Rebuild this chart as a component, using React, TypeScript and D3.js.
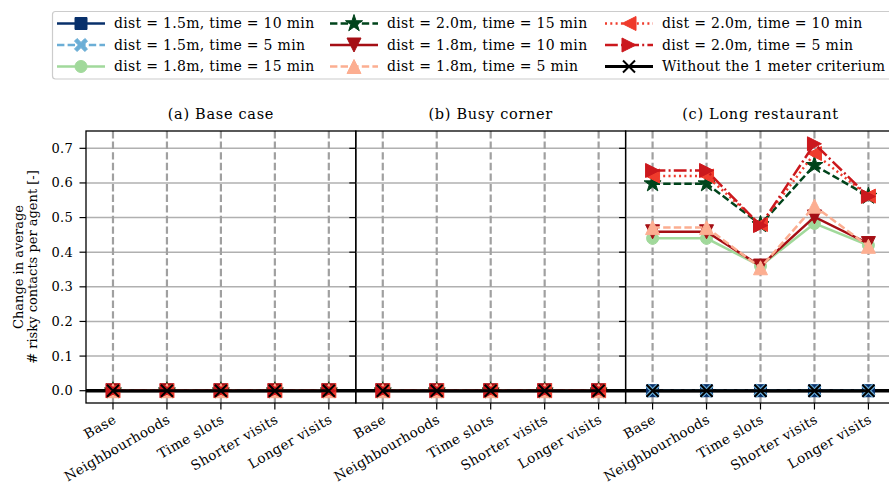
import React from "react";
import * as d3 from "d3";

// ---------- data ----------
const categories = ["Base", "Neighbourhoods", "Time slots", "Shorter visits", "Longer visits"];
const panelTitles = ["(a) Base case", "(b) Busy corner", "(c) Long restaurant"];
const yTicks = [0.0, 0.1, 0.2, 0.3, 0.4, 0.5, 0.6, 0.7];

// (a) Base case and (b) Busy corner: every configuration gives no change
const baseCaseValues = [0, 0, 0, 0, 0];
const busyCornerValues = [0, 0, 0, 0, 0];

// (c) Long restaurant
const longRestaurant_d15_t10 = [0, 0, 0, 0, 0];
const longRestaurant_d15_t5 = [0, 0, 0, 0, 0];
const longRestaurant_d18_t15 = [0.44, 0.44, 0.36, 0.483, 0.42];
const longRestaurant_d20_t15 = [0.598, 0.598, 0.48, 0.651, 0.562];
const longRestaurant_d18_t10 = [0.459, 0.459, 0.36, 0.502, 0.425];
const longRestaurant_d18_t5 = [0.471, 0.471, 0.355, 0.533, 0.417];
const longRestaurant_d20_t10 = [0.62, 0.62, 0.48, 0.685, 0.562];
const longRestaurant_d20_t5 = [0.636, 0.636, 0.477, 0.713, 0.561];
const longRestaurant_without = [0, 0, 0, 0, 0];

const seriesLabels = [
  "dist = 1.5m, time = 10 min",
  "dist = 1.5m, time = 5 min",
  "dist = 1.8m, time = 15 min",
  "dist = 2.0m, time = 15 min",
  "dist = 1.8m, time = 10 min",
  "dist = 1.8m, time = 5 min",
  "dist = 2.0m, time = 10 min",
  "dist = 2.0m, time = 5 min",
  "Without the 1 meter criterium",
];
const longRestaurantValues = [
  longRestaurant_d15_t10,
  longRestaurant_d15_t5,
  longRestaurant_d18_t15,
  longRestaurant_d20_t15,
  longRestaurant_d18_t10,
  longRestaurant_d18_t5,
  longRestaurant_d20_t10,
  longRestaurant_d20_t5,
  longRestaurant_without,
];

// ---------- styles ----------
type Marker = "square" | "X" | "circle" | "star" | "down" | "up" | "left" | "right" | "x";
const seriesColors = ["#08306b", "#6baed6", "#a1d99b", "#00441b", "#a50f15", "#fcae91", "#ef3b2c", "#cb181d", "#000000"];
const seriesMarkers: Marker[] = ["square", "X", "circle", "star", "down", "up", "left", "right", "x"];
const seriesDash = ["", "7.4,3.2", "", "7.4,3.2", "", "7.4,3.2", "2,3.3", "12.8,3.2,2,3.2", ""];
const seriesWidth = [2.5, 2.5, 2.5, 2.5, 2.5, 2.5, 2.5, 2.5, 3];

const FONT = "'DejaVu Serif', serif";

const W = 889;
const H = 486;
const panelLeft = [86, 355.8, 625.6];
const panelW = 269.8;
const plotTop = 131;
const plotBottom = 403;
const tickLen = 6.5;

const y = d3.scaleLinear().domain([-0.0355, 0.75]).range([plotBottom, plotTop]);

function markerPath(m: Marker): string {
  const h = 7;
  switch (m) {
    case "square":
      return `M${-6},${-6}H6V6H-6Z`;
    case "circle":
      return d3.symbol(d3.symbolCircle, Math.PI * 36)()!;
    case "star":
      return d3.symbol(d3.symbolStar, 90)()!;
    case "X": {
      const a = 6.5, t = 2.6;
      return `M${-a},${-a + t}L${-a + t},${-a}L0,${-t}L${a - t},${-a}L${a},${-a + t}L${t},0L${a},${a - t}L${a - t},${a}L0,${t}L${-a + t},${a}L${-a},${a - t}L${-t},0Z`;
    }
    case "up":
      return `M0,${-h}L${h},${h}L${-h},${h}Z`;
    case "down":
      return `M0,${h}L${h},${-h}L${-h},${-h}Z`;
    case "left":
      return `M${-h},0L${h},${-h}L${h},${h}Z`;
    case "right":
      return `M${h},0L${-h},${-h}L${-h},${h}Z`;
    case "x":
      return `M-6,-6L6,6M-6,6L6,-6`;
  }
}

function MarkerShape({ m, color, cx, cy }: { m: Marker; color: string; cx: number; cy: number }) {
  if (m === "x") {
    return <path d={markerPath(m)} transform={`translate(${cx},${cy})`} stroke={color} strokeWidth={2} fill="none" />;
  }
  return <path d={markerPath(m)} transform={`translate(${cx},${cy})`} fill={color} stroke={color} strokeWidth={1} />;
}

function Panel({ index }: { index: number }) {
  const left = panelLeft[index];
  const right = left + panelW;
  const x = d3.scaleLinear().domain([-0.5, 4.5]).range([left, right]);
  const values = index === 0 ? seriesLabels.map(() => baseCaseValues) : index === 1 ? seriesLabels.map(() => busyCornerValues) : longRestaurantValues;
  const line = d3
    .line<number>()
    .x((_, i) => x(i))
    .y((d) => y(d));
  return (
    <g>
      {yTicks.map((t) => (
        <line key={t} x1={left} x2={right} y1={y(t)} y2={y(t)} stroke="#b0b0b0" strokeWidth={1.5} />
      ))}
      {categories.map((c, i) => (
        <line key={c} x1={x(i)} x2={x(i)} y1={plotTop} y2={plotBottom} stroke="#a0a0a0" strokeWidth={2.2} strokeDasharray="7.4,3.2" />
      ))}
      <line x1={left} x2={right} y1={y(0)} y2={y(0)} stroke="#000" strokeWidth={3.5} />
      {values.map((vals, s) => (
        <g key={s}>
          <path d={line(vals)!} fill="none" stroke={seriesColors[s]} strokeWidth={seriesWidth[s]} strokeDasharray={seriesDash[s] || undefined} />
          {vals.map((v, i) => (
            <MarkerShape key={i} m={seriesMarkers[s]} color={seriesColors[s]} cx={x(i)} cy={y(v)} />
          ))}
        </g>
      ))}
      <rect x={left} y={plotTop} width={panelW} height={plotBottom - plotTop} fill="none" stroke="#000" strokeWidth={1.3} />
      {yTicks.map((t) => (
        <line key={t} x1={left - tickLen} x2={left} y1={y(t)} y2={y(t)} stroke="#000" strokeWidth={1.2} />
      ))}
      {index === 0 &&
        yTicks.map((t) => (
          <text key={t} x={left - 13} y={y(t)} dy="0.35em" textAnchor="end" fontFamily={FONT} fontSize={13} letterSpacing={0.3}>
            {d3.format(".1f")(t)}
          </text>
        ))}
      {categories.map((c, i) => (
        <g key={c}>
          <line x1={x(i)} x2={x(i)} y1={plotBottom} y2={plotBottom + tickLen} stroke="#000" strokeWidth={1.2} />
          <text
            transform={`translate(${x(i) - 1},${plotBottom + 10}) rotate(-30)`}
            textAnchor="end"
            dominantBaseline="hanging"
            fontFamily={FONT}
            fontSize={13.5}
            letterSpacing={0.4}
          >
            {c}
          </text>
        </g>
      ))}
      <text x={(left + right) / 2} y={plotTop - 12} textAnchor="middle" fontFamily={FONT} fontSize={14.5} letterSpacing={0.7}>
        {panelTitles[index]}
      </text>
    </g>
  );
}

function Legend() {
  const colX = [57, 330, 605];
  const rowY = [23.5, 45, 66.5];
  const handleLen = 48;
  return (
    <g>
      <rect x={52.5} y={11.5} width={845} height={67.5} rx={3} fill="#fff" stroke="#cccccc" strokeWidth={1.2} />
      {seriesLabels.map((lab, s) => {
        const col = Math.floor(s / 3);
        const row = s % 3;
        const x0 = colX[col];
        const yy = rowY[row];
        return (
          <g key={lab}>
            <line x1={x0} x2={x0 + handleLen} y1={yy} y2={yy} stroke={seriesColors[s]} strokeWidth={seriesWidth[s]} strokeDasharray={seriesDash[s] || undefined} />
            <MarkerShape m={seriesMarkers[s]} color={seriesColors[s]} cx={x0 + handleLen / 2} cy={yy} />
            <text x={x0 + 57} y={yy} dy="0.35em" fontFamily={FONT} fontSize={14} letterSpacing={0.3}>
              {lab}
            </text>
          </g>
        );
      })}
    </g>
  );
}

export default function App() {
  const midY = (plotTop + plotBottom) / 2;
  return (
    <svg width={W} height={H} style={{ position: "absolute", left: 0, top: 0, background: "#fff" }}>
      <rect width={W} height={H} fill="#fff" />
      {[0, 1, 2].map((i) => (
        <Panel key={i} index={i} />
      ))}
      <text transform={`translate(18,${midY}) rotate(-90)`} textAnchor="middle" dy="0.35em" fontFamily={FONT} fontSize={13}>
        Change in average
      </text>
      <text transform={`translate(32,${midY}) rotate(-90)`} textAnchor="middle" dy="0.35em" fontFamily={FONT} fontSize={13}>
        # risky contacts per agent  [-]
      </text>
      <Legend />
    </svg>
  );
}
